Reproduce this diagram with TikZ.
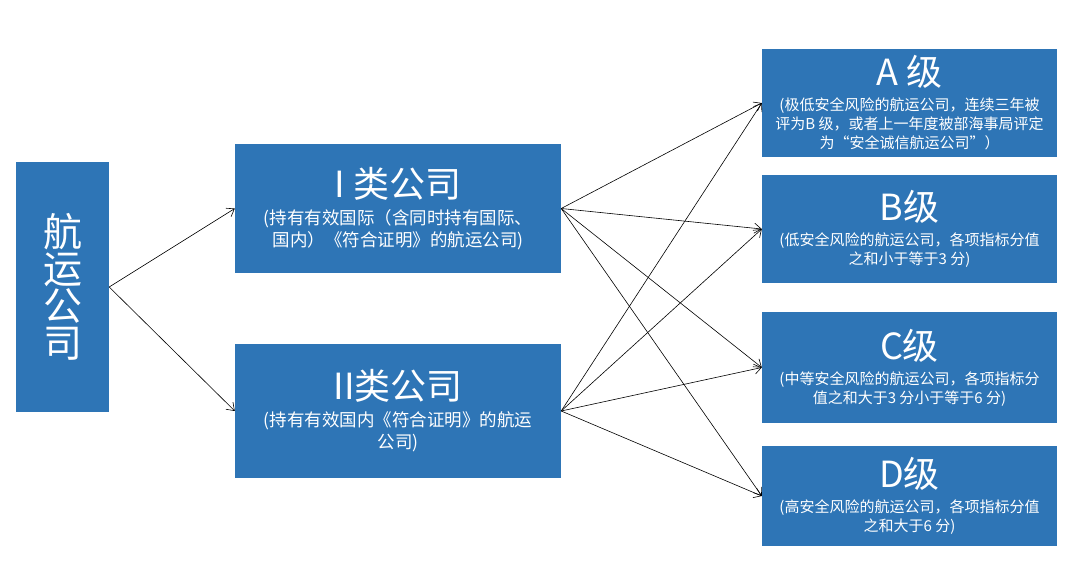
\documentclass[tikz,border=0pt]{standalone}
\usepackage{fontspec}
\setmainfont{Noto Sans CJK SC}
\usetikzlibrary{positioning,arrows.meta}
\definecolor{boxblue}{RGB}{46,117,182}
\tikzset{
    box/.style={fill=boxblue, text=white, align=center, inner sep=0pt},
    midbox/.style={box, minimum width=326, font=\fontsize{17.5}{22}\selectfont},
    gradebox/.style={box, minimum width=295, font=\fontsize{15}{19}\selectfont},
    link/.style={draw=black, -{Straight Barb[length=7pt,width=10pt]}, line width=0.6pt},
}
\newcommand{\bigline}[1]{{\fontsize{36}{34}\selectfont #1}}

\begin{document}
\begin{tikzpicture}[x=1pt, y=-1pt]
	\useasboundingbox[fill=white] (0,0) rectangle (1080,576);
	% left
	\node[box, minimum width=93, minimum height=250, font=\fontsize{39}{37}\selectfont] (ship) at (62.5,287)
		{航\\运\\公\\司};
	% middle
	\node[midbox, minimum height=129] (classI) at (398,208.5)
		{\bigline{I 类公司}\\[5pt](持有有效国际（含同时持有国际、\\国内）《符合证明》的航运公司)};
	\node[midbox, minimum height=134] (classII) at (398,411)
		{\bigline{II类公司}\\[5pt](持有有效国内《符合证明》的航运\\公司)};
	% right
	\node[gradebox, minimum height=108] (gradeA) at (909.5,103)
		{\bigline{A 级}\\[6pt](极低安全风险的航运公司，连续三年被\\评为B 级，或者上一年度被部海事局评定\\为“安全诚信航运公司”）};
	\node[gradebox, minimum height=108] (gradeB) at (909.5,229)
		{\bigline{B级}\\[6pt](低安全风险的航运公司，各项指标分值\\之和小于等于3 分)};
	\node[gradebox, minimum height=111] (gradeC) at (909.5,367.5)
		{\bigline{C级}\\[6pt](中等安全风险的航运公司，各项指标分\\值之和大于3 分小于等于6 分)};
	\node[gradebox, minimum height=100] (gradeD) at (909.5,496)
		{\bigline{D级}\\[6pt](高安全风险的航运公司，各项指标分值\\之和大于6 分)};
	% arrows
	\draw[link] (ship.east) -- (classI.west);
	\draw[link] (ship.east) -- (classII.west);
	\foreach \g in {gradeA,gradeB,gradeC,gradeD}{
		\draw[link] (classI.east) -- (\g.west);
		\draw[link] (classII.east) -- (\g.west);
	}
\end{tikzpicture}
\end{document}
